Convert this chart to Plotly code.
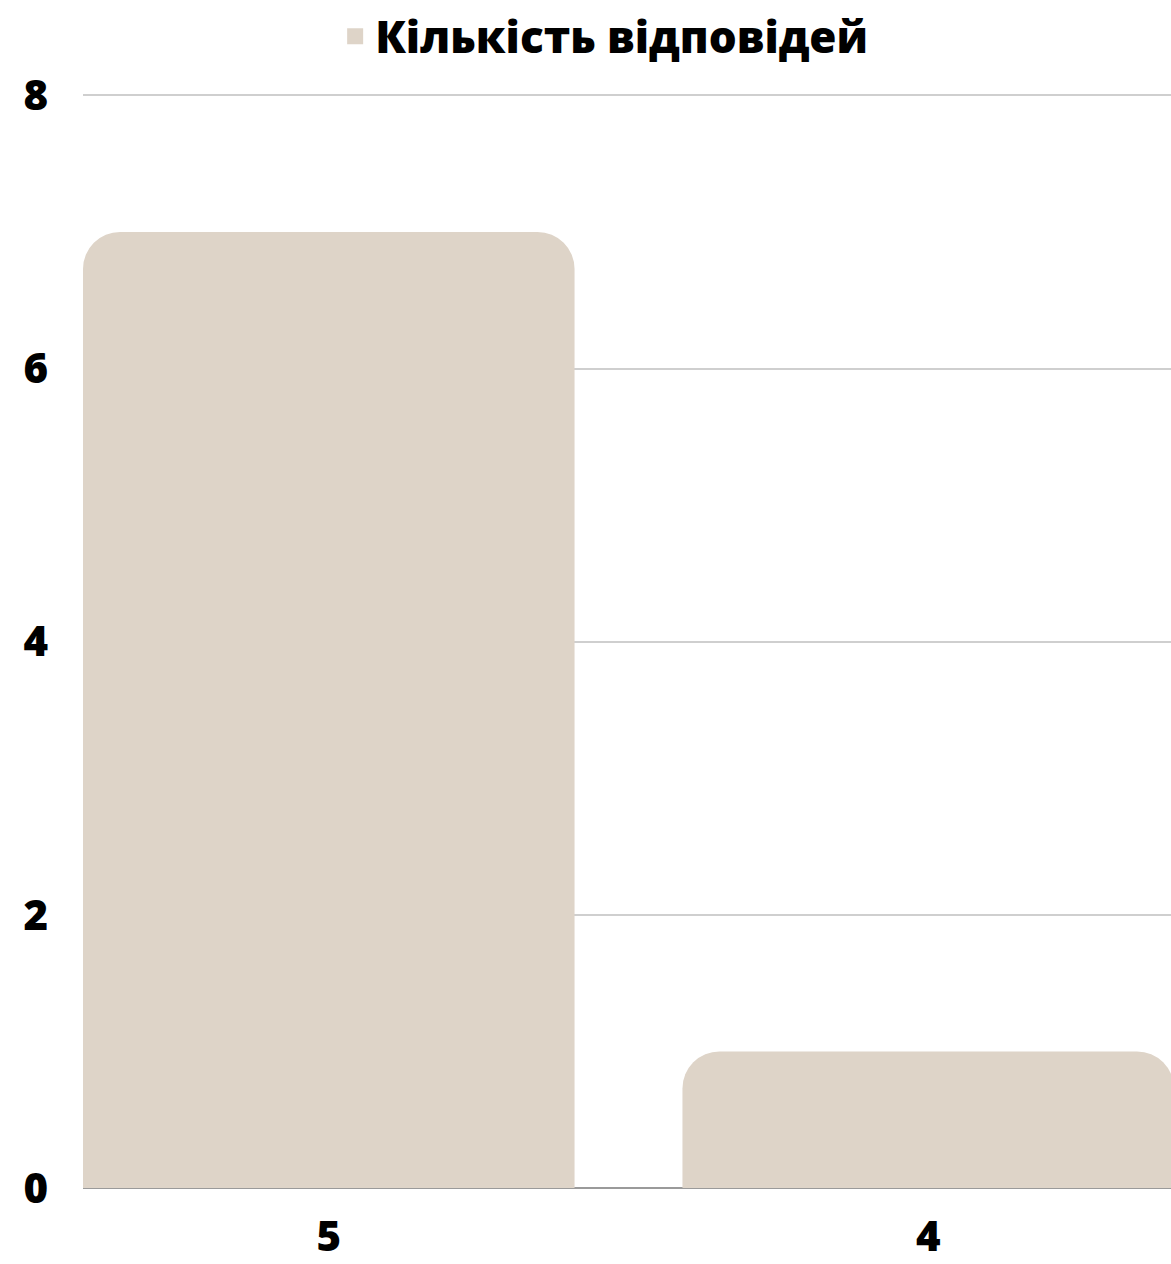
import plotly.graph_objects as go

categories = ["5", "4"]
counts = [7, 1]
series_name = "Кількість відповідей"
y_ticks = [0, 2, 4, 6, 8]

bar_color = "#DED4C8"
font_family = "Open Sans, Lato, sans-serif"

fig = go.Figure()
fig.add_trace(go.Bar(
    x=categories, y=counts, name=series_name,
    marker=dict(color=bar_color, line=dict(width=0)),
    width=0.82, showlegend=False,
))
# legend entry with a larger square symbol
fig.add_trace(go.Scatter(
    x=[categories[0]], y=[None], name=series_name, mode="markers",
    marker=dict(symbol="square", size=16, color=bar_color),
    showlegend=True, hoverinfo="skip",
))

fig.update_layout(
    width=1171, height=1264,
    margin=dict(l=83, r=0, t=94, b=76, autoexpand=False),
    paper_bgcolor="white", plot_bgcolor="white",
    barcornerradius=37,
    showlegend=True,
    legend=dict(
        orientation="h", xref="paper", x=0.479, xanchor="center",
        yref="container", y=0.971, yanchor="middle",
        font=dict(family=font_family, size=44, color="black", weight=800),
        itemsizing="trace", itemwidth=30,
    ),
    xaxis=dict(
        type="category", range=[-0.41, 1.405], automargin=False,
        showgrid=False, showline=False, zeroline=False, ticks="",
        tickfont=dict(family=font_family, size=42, color="black", weight=800),
        ticklabelstandoff=20,
    ),
    yaxis=dict(
        range=[0, 8.01], tickvals=y_ticks, automargin=False,
        showgrid=True, gridcolor="#CFCFCF", gridwidth=1.5,
        zeroline=True, zerolinecolor="#9A9A9A", zerolinewidth=2,
        showline=False, ticks="",
        tickfont=dict(family=font_family, size=42, color="black", weight=800),
        ticklabelstandoff=34,
    ),
)

fig.write_html(
    "out.html",
    config={"displayModeBar": False},
    post_script="document.body.style.margin='0';document.body.style.overflow='hidden';",
)
